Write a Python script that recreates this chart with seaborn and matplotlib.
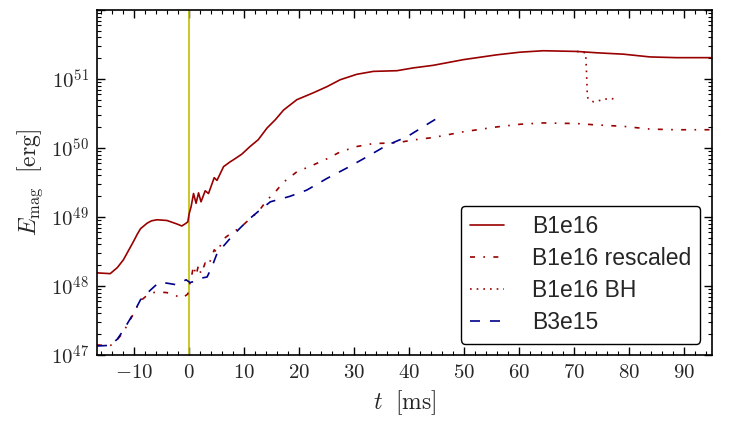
import pandas as pd
import numpy as np
import seaborn as sns
import matplotlib
matplotlib.use("Agg")
import matplotlib.pyplot as plt
from matplotlib.ticker import MultipleLocator, FuncFormatter, LogLocator

# valores (t em ms, E em erg)
t_b1e16 = [-16.7, -14.3, -13.0, -11.9, -10.1, -9.4, -8.8, -7.6, -6.8, -5.8, -4.0, -2.2,
           -1.3, -0.7, -0.2, 0.05, 0.4, 0.84, 1.3, 1.75, 2.2, 2.96, 3.56, 4.6, 5.1, 6.3,
           7.5, 8.1, 9.6, 11.1, 12.6, 14.2, 15.7, 17.2, 19.6, 22.6, 25.1, 27.5, 30.5,
           33.5, 37.8, 40.8, 44.4, 49.9, 55.9, 60.2, 64.4, 70.5, 74.1, 79.0, 83.8,
           88.6, 95.0]
e_b1e16 = [1.55e48, 1.51e48, 1.85e48, 2.40e48, 4.37e48, 5.60e48, 6.76e48, 8.13e48,
           8.80e48, 9.12e48, 8.91e48, 7.94e48, 7.41e48, 7.94e48, 8.51e48, 1.12e49,
           1.41e49, 2.19e49, 1.58e49, 2.24e49, 1.66e49, 2.40e49, 2.19e49, 3.72e49,
           3.39e49, 5.37e49, 6.31e49, 6.76e49, 8.13e49, 1.05e50, 1.32e50, 1.95e50,
           2.57e50, 3.55e50, 5.01e50, 6.31e50, 7.76e50, 9.77e50, 1.17e51, 1.29e51,
           1.32e51, 1.45e51, 1.58e51, 1.91e51, 2.24e51, 2.45e51, 2.57e51, 2.51e51,
           2.40e51, 2.29e51, 2.09e51, 2.04e51, 2.04e51]
e_rescaled = [1.40e47, 1.36e47, 1.67e47, 2.16e47, 3.93e47, 5.04e47, 6.08e47, 7.32e47,
              7.92e47, 8.21e47, 8.02e47, 7.15e47, 6.67e47, 7.15e47, 7.66e47, 1.01e48,
              1.27e48, 1.97e48, 1.42e48, 2.02e48, 1.49e48, 2.16e48, 1.97e48, 3.35e48,
              3.05e48, 4.83e48, 5.68e48, 6.08e48, 7.32e48, 9.45e48, 1.19e49, 1.76e49,
              2.31e49, 3.20e49, 4.51e49, 5.68e49, 6.98e49, 8.79e49, 1.05e50, 1.16e50,
              1.19e50, 1.31e50, 1.42e50, 1.72e50, 2.02e50, 2.21e50, 2.31e50, 2.26e50,
              2.16e50, 2.06e50, 1.88e50, 1.84e50, 1.84e50]

t_bh = [70.5, 72.1, 72.3, 72.4, 72.7, 73.5, 74.7, 75.8, 76.8, 77.7]
e_bh = [2.51e51, 2.40e51, 1.0e51, 5.5e50, 5.01e50, 4.68e50, 4.9e50, 5.13e50, 5.25e50, 4.9e50]

t_b3e15 = [-16.7, -14.3, -13.0, -11.9, -10.1, -8.8, -7.0, -5.5, -4.0, -2.5, -1.6, -0.5,
           0.2, 1.0, 2.0, 3.3, 4.2, 5.1, 7.5, 9.3, 11.1, 12.9, 14.8, 16.6, 18.4, 21.4,
           25.1, 28.7, 32.3, 36.0, 39.6, 42.6, 45.5]
e_b3e15 = [1.35e47, 1.38e47, 1.70e47, 2.29e47, 3.98e47, 6.31e47, 8.71e47, 1.12e48,
           1.10e48, 1.05e48, 1.12e48, 1.23e48, 1.12e48, 1.17e48, 1.29e48, 1.35e48,
           1.91e48, 2.95e48, 4.90e48, 6.92e48, 9.55e48, 1.26e49, 1.66e49, 1.82e49,
           2.00e49, 2.45e49, 3.63e49, 5.13e49, 7.41e49, 1.10e50, 1.45e50, 2.04e50,
           2.82e50]

sns.set_style("ticks")
plt.rcParams["mathtext.fontset"] = "cm"
plt.rcParams["font.family"] = ["Liberation Sans", "DejaVu Sans"]

vermelho = "#990000"
azul = "#00008b"

dados1 = pd.DataFrame({"t": t_b1e16, "E": e_b1e16, "Er": e_rescaled})
dados_bh = pd.DataFrame({"t": t_bh, "E": e_bh})
dados3 = pd.DataFrame({"t": t_b3e15, "E": e_b3e15})

fig = plt.figure(figsize=(7.31, 4.36), dpi=100)
ax = fig.add_axes([0.1327, 0.1858, 0.8409, 0.7912])

ax.axvline(0, color="#bfbf00", lw=1.2, zorder=1)
sns.lineplot(data=dados1, x="t", y="E", ax=ax, color=vermelho, lw=1.2,
             estimator=None, sort=False, label="B1e16")
sns.lineplot(data=dados1, x="t", y="Er", ax=ax, color=vermelho, lw=1.2,
             estimator=None, sort=False, label="B1e16 rescaled",
             linestyle=(0, (3, 5, 1, 5)))
sns.lineplot(data=dados_bh, x="t", y="E", ax=ax, color=vermelho, lw=1.2,
             estimator=None, sort=False, label="B1e16 BH", linestyle=(0, (1, 3)))
sns.lineplot(data=dados3, x="t", y="E", ax=ax, color=azul, lw=1.2,
             estimator=None, sort=False, label="B3e15", linestyle=(0, (6, 6)))

ax.set_yscale("log")
ax.set_xlim(-16.7, 95)
ax.set_ylim(1e47, 1e52)

ax.xaxis.set_major_locator(MultipleLocator(10))
ax.xaxis.set_minor_locator(MultipleLocator(2))
ax.yaxis.set_major_locator(LogLocator(base=10, numticks=10))
ax.yaxis.set_minor_locator(LogLocator(base=10, subs=np.arange(2, 10), numticks=20))
ax.xaxis.set_major_formatter(FuncFormatter(lambda v, p: r"$%d$" % round(v)))
ax.yaxis.set_major_formatter(FuncFormatter(
    lambda v, p: r"$10^{%d}$" % round(np.log10(v)) if round(np.log10(v)) < 52 else ""))
ax.tick_params(which="both", direction="in", top=True, right=True, color="black")
ax.tick_params(which="major", length=6, width=1, labelsize=15, pad=6)
ax.tick_params(which="minor", length=3, width=0.8)
for s in ax.spines.values():
    s.set_color("black")
    s.set_linewidth(1.2)

ax.set_xlabel(r"$t\ \ [\mathrm{ms}]$", fontsize=17)
ax.set_ylabel(r"$E_{\mathrm{mag}}\ \ [\mathrm{erg}]$", fontsize=17, labelpad=4)

leg = ax.legend(loc="lower right", fontsize=16.5, handlelength=1.5, handletextpad=1.2,
                labelspacing=0.4, fancybox=True, framealpha=1, edgecolor="black",
                borderaxespad=0.5)
leg.get_frame().set_linewidth(1.0)

plt.savefig("out.png", dpi=100)
